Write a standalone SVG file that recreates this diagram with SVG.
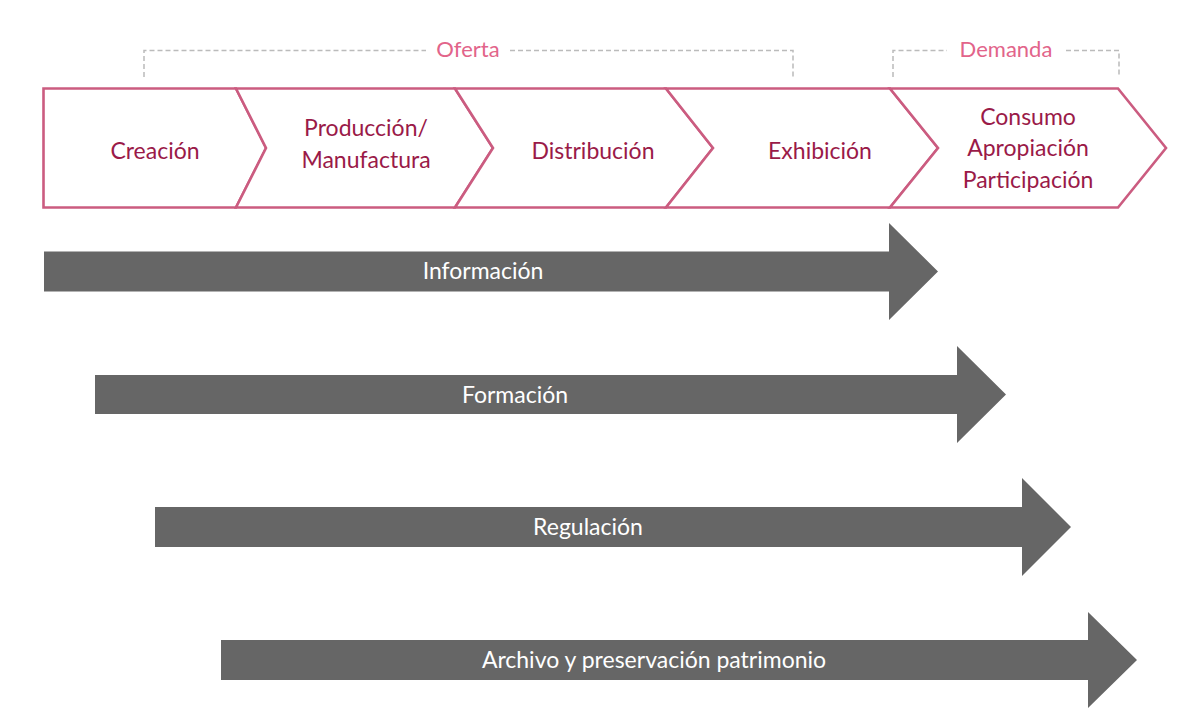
<svg xmlns="http://www.w3.org/2000/svg" width="1200" height="720" viewBox="0 0 1200 720">
<style>
.chev{fill:#fff;stroke:#CB5C80;stroke-width:2.6;stroke-linejoin:miter}
.lbl{font-family:Lato,"Source Sans Pro","Open Sans",sans-serif;font-size:23px;fill:#9A1A48;text-anchor:middle}
.brk{fill:none;stroke:#BBBBBB;stroke-width:1.5;stroke-dasharray:5,3}
.brt{font-family:Lato,"Open Sans",sans-serif;font-size:22px;fill:#E2648A;text-anchor:middle}
.arr{fill:#666666}
.atx{font-family:Lato,"Open Sans",sans-serif;font-size:23px;fill:#FFFFFF;text-anchor:middle}
</style>
<rect width="1200" height="720" fill="#FFFFFF"/>
<g id="brackets">
<path class="brk" d="M144,77 V50.5 H426 M510,50.5 H793 V77"/>
<text class="brt" x="468" y="57">Oferta</text>
<path class="brk" d="M893,77 V50.5 H947 M1066,50.5 H1119 V77"/>
<text class="brt" x="1006" y="57">Demanda</text>
</g>
<g id="creacion">
<path class="chev" d="M43.5,88.5 H236 L266,148 L236,207.5 H43.5 Z"/>
<text class="lbl" x="155" y="159">Creación</text>
</g>
<g id="produccion">
<path class="chev" d="M236,88.5 H455 L493,148 L455,207.5 H236 L266,148 Z"/>
<text class="lbl" x="366" y="136">Producción/</text>
<text class="lbl" x="366" y="168">Manufactura</text>
</g>
<g id="distribucion">
<path class="chev" d="M455,88.5 H666 L713,148 L666,207.5 H455 L493,148 Z"/>
<text class="lbl" x="593" y="159">Distribución</text>
</g>
<g id="exhibicion">
<path class="chev" d="M666,88.5 H890 L938,148 L890,207.5 H666 L713,148 Z"/>
<text class="lbl" x="820" y="159">Exhibición</text>
</g>
<g id="consumo">
<path class="chev" d="M890,88.5 H1118 L1166,148 L1118,207.5 H890 L938,148 Z"/>
<text class="lbl" x="1028" y="125">Consumo</text>
<text class="lbl" x="1028" y="156">Apropiación</text>
<text class="lbl" x="1028" y="188">Participación</text>
</g>
<g id="connectors">
<g id="informacion">
<path class="arr" d="M44,251.5 H889 V223 L938,271.5 L889,320 V291.5 H44 Z"/>
<text class="atx" x="483" y="279">Información</text>
</g>
<g id="formacion">
<path class="arr" d="M95,375 H957 V346 L1006,394.5 L957,443 V414 H95 Z"/>
<text class="atx" x="515" y="403">Formación</text>
</g>
<g id="regulacion">
<path class="arr" d="M155,507 H1022 V478 L1071,527 L1022,576 V547 H155 Z"/>
<text class="atx" x="588" y="535">Regulación</text>
</g>
<g id="archivo">
<path class="arr" d="M221,640 H1088 V612 L1137,660 L1088,708 V680 H221 Z"/>
<text class="atx" x="654" y="668">Archivo y preservación patrimonio</text>
</g>
</g>
</svg>
